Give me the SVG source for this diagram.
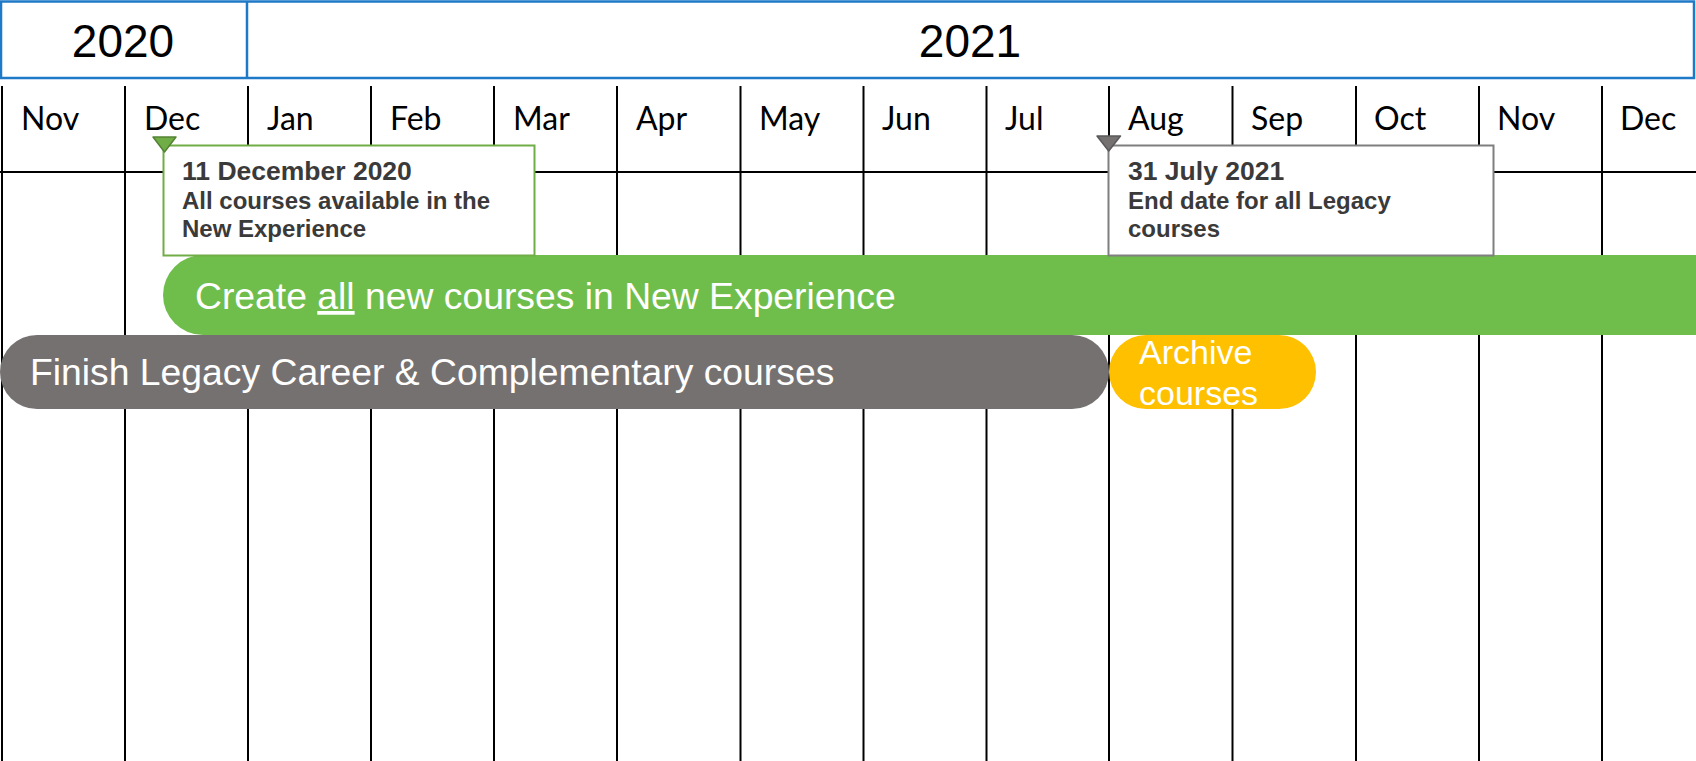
<svg xmlns="http://www.w3.org/2000/svg" width="1696" height="761" viewBox="0 0 1696 761">
  <style>
    .yr { font-family: "Liberation Sans", Arial, sans-serif; font-size: 46px; fill: #000; text-anchor: middle; }
    .mo { font-family: Lato, "Open Sans", sans-serif; font-size: 32px; fill: #000; }
    .grid { stroke: #000; stroke-width: 2; }
    .co-title { font-family: "Liberation Sans", Arial, sans-serif; font-weight: bold; font-size: 26.5px; fill: #3a3a3a; }
    .co-body { font-family: "Liberation Sans", Arial, sans-serif; font-weight: bold; font-size: 24px; fill: #3a3a3a; }
    .bar-text { font-family: "Liberation Sans", Arial, sans-serif; font-size: 37.3px; fill: #fff; }
    .arch-text { font-family: "Liberation Sans", Arial, sans-serif; font-size: 34px; fill: #fff; }
  </style>
  <rect width="1696" height="761" fill="#fff"/>

  <g id="header">
    <rect x="1" y="1.5" width="1693" height="76.5" fill="#fff" stroke="#1E7AC8" stroke-width="2.5"/>
    <line x1="247" y1="1" x2="247" y2="78" stroke="#1E7AC8" stroke-width="2.5"/>
    <text class="yr" x="123" y="57">2020</text>
    <text class="yr" x="970" y="57">2021</text>
  </g>

  <g id="grid">
    <line class="grid" x1="0" y1="172" x2="1696" y2="172"/>
    <line class="grid" x1="2" y1="86" x2="2" y2="761"/>
    <line class="grid" x1="125" y1="86" x2="125" y2="761"/>
    <line class="grid" x1="248" y1="86" x2="248" y2="761"/>
    <line class="grid" x1="371" y1="86" x2="371" y2="761"/>
    <line class="grid" x1="494" y1="86" x2="494" y2="761"/>
    <line class="grid" x1="617" y1="86" x2="617" y2="761"/>
    <line class="grid" x1="740.5" y1="86" x2="740.5" y2="761"/>
    <line class="grid" x1="863.5" y1="86" x2="863.5" y2="761"/>
    <line class="grid" x1="986.5" y1="86" x2="986.5" y2="761"/>
    <line class="grid" x1="1109" y1="86" x2="1109" y2="761"/>
    <line class="grid" x1="1232.5" y1="86" x2="1232.5" y2="761"/>
    <line class="grid" x1="1356" y1="86" x2="1356" y2="761"/>
    <line class="grid" x1="1479" y1="86" x2="1479" y2="761"/>
    <line class="grid" x1="1602" y1="86" x2="1602" y2="761"/>
  </g>

  <g id="months">
    <text class="mo" x="21" y="130">Nov</text>
    <text class="mo" x="144" y="130">Dec</text>
    <text class="mo" x="267" y="130">Jan</text>
    <text class="mo" x="390" y="130">Feb</text>
    <text class="mo" x="513" y="130">Mar</text>
    <text class="mo" x="636" y="130">Apr</text>
    <text class="mo" x="759" y="130">May</text>
    <text class="mo" x="882" y="130">Jun</text>
    <text class="mo" x="1005" y="130">Jul</text>
    <text class="mo" x="1128" y="130">Aug</text>
    <text class="mo" x="1251" y="130">Sep</text>
    <text class="mo" x="1374" y="130">Oct</text>
    <text class="mo" x="1497" y="130">Nov</text>
    <text class="mo" x="1620" y="130">Dec</text>
  </g>

  <g id="bar-create">
    <path d="M203,255 H1696 V335 H203 A40,40 0 0 1 203,255 Z" fill="#6FBE4C"/>
    <text class="bar-text" x="195" y="309">Create <tspan text-decoration="underline">all</tspan> new courses in New Experience</text>
  </g>

  <g id="bar-legacy">
    <rect x="0" y="335" width="1109" height="74" rx="37" ry="37" fill="#767171"/>
    <text class="bar-text" x="30" y="385">Finish Legacy Career &amp; Complementary courses</text>
  </g>

  <g id="bar-archive">
    <rect x="1109" y="335" width="207" height="74" rx="37" ry="37" fill="#FFC000"/>
    <text class="arch-text" x="1139" y="364">Archive</text>
    <text class="arch-text" x="1139" y="405">courses</text>
  </g>

  <g id="callout-dec">
    <rect x="163.5" y="145.5" width="371" height="110" fill="#fff" stroke="#70AD47" stroke-width="2"/>
    <polygon points="153,137 176,137 164.5,152" fill="#70AD47" stroke="#548235" stroke-width="1.5" stroke-linejoin="round"/>
    <text class="co-title" x="182" y="180">11 December 2020</text>
    <text class="co-body" x="182" y="209">All courses available in the</text>
    <text class="co-body" x="182" y="237">New Experience</text>
  </g>

  <g id="callout-jul">
    <rect x="1108.5" y="145.5" width="385" height="110" fill="#fff" stroke="#7F7F7F" stroke-width="2"/>
    <polygon points="1097,136 1120.5,136 1108.7,151" fill="#767171" stroke="#595959" stroke-width="1.5" stroke-linejoin="round"/>
    <text class="co-title" x="1128" y="180">31 July 2021</text>
    <text class="co-body" x="1128" y="209">End date for all Legacy</text>
    <text class="co-body" x="1128" y="237">courses</text>
  </g>
</svg>
